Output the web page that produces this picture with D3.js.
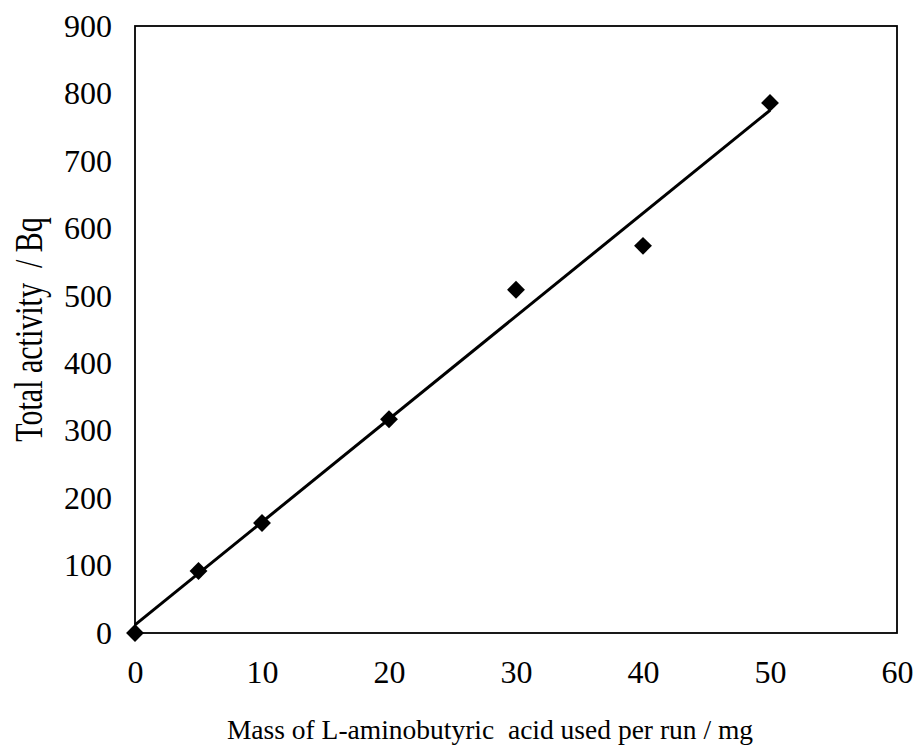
<!DOCTYPE html>
<html>
<head>
<meta charset="utf-8">
<script src="https://cdn.jsdelivr.net/npm/d3@7"></script>
<style>
  body { margin: 0; background: #fff; }
  svg { display: block; font-family: "Liberation Serif", "Times New Roman", serif; }
</style>
</head>
<body>
<div id="chart"></div>
<script>
// measured points
const massMg = [0, 5, 10, 20, 30, 40, 50];
const activityBq = [0, 92, 163, 317, 509, 574, 786];

// fitted trend line at its two ends
const trendMass = [0, 50];
const trendActivity = [12, 775];

const xTicks = [0, 10, 20, 30, 40, 50, 60];
const yTicks = [0, 100, 200, 300, 400, 500, 600, 700, 800, 900];

const xTitle = "Mass of L-aminobutyric\u00a0 acid used per run / mg";
const yTitle = "Total activity\u00a0 / Bq";

const width = 922, height = 756;
const margin = {top: 26, right: 25, bottom: 123, left: 135};

const svg = d3.select("#chart").append("svg")
    .attr("width", width)
    .attr("height", height);

const xScale = d3.scaleLinear()
    .domain([0, 60])
    .range([margin.left, width - margin.right]);

const yScale = d3.scaleLinear()
    .domain([0, 900])
    .range([height - margin.bottom, margin.top]);

// axes (no tick marks, labels only)
const xAxis = d3.axisBottom(xScale).tickValues(xTicks).tickSize(0).tickPadding(27);
const yAxis = d3.axisLeft(yScale).tickValues(yTicks).tickSize(0).tickPadding(23);

svg.append("g")
    .attr("class", "x-axis axis")
    .attr("transform", `translate(0,${yScale(0)})`)
    .call(xAxis);

svg.append("g")
    .attr("class", "y-axis axis")
    .attr("transform", `translate(${xScale(0)},0)`)
    .call(yAxis);

svg.selectAll(".axis .domain").remove();
svg.selectAll(".axis")
    .attr("font-family", "Liberation Serif")
    .attr("font-size", 32);
svg.selectAll(".axis text")
    .attr("fill", "#000");

// plot frame
svg.append("rect")
    .attr("x", xScale(0))
    .attr("y", yScale(900))
    .attr("width", xScale(60) - xScale(0))
    .attr("height", yScale(0) - yScale(900))
    .attr("fill", "none")
    .attr("stroke", "#000")
    .attr("stroke-width", 1.8);

// trend line
svg.append("line")
    .attr("x1", xScale(trendMass[0]))
    .attr("y1", yScale(trendActivity[0]))
    .attr("x2", xScale(trendMass[1]))
    .attr("y2", yScale(trendActivity[1]))
    .attr("stroke", "#000")
    .attr("stroke-width", 3);

// diamond markers
const diamond = d3.symbol().type(d3.symbolSquare).size(160);
svg.append("g")
    .selectAll("path")
    .data(massMg.map((m, i) => ({mass: m, activity: activityBq[i]})))
    .enter()
    .append("path")
    .attr("d", diamond)
    .attr("transform", d => `translate(${xScale(d.mass)},${yScale(d.activity)}) rotate(45)`)
    .attr("fill", "#000");

// axis titles
svg.append("text")
    .attr("x", 490)
    .attr("y", 739)
    .attr("text-anchor", "middle")
    .attr("font-size", 27.5)
    .attr("fill", "#000")
    .text(xTitle);

svg.append("text")
    .attr("transform", `translate(42,${(yScale(0) + yScale(900)) / 2}) rotate(-90) scale(1,1.3)`)
    .attr("text-anchor", "middle")
    .attr("font-size", 30)
    .attr("fill", "#000")
    .text(yTitle);
</script>
</body>
</html>
